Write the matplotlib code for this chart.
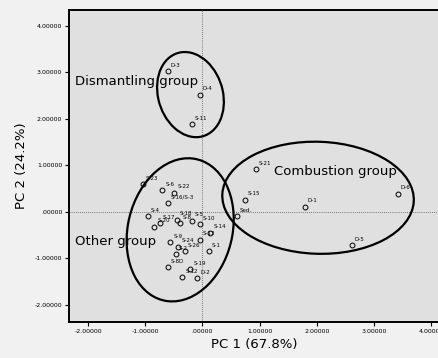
import matplotlib

matplotlib.use("Agg")

import matplotlib.pyplot as plt  # noqa: E402
from matplotlib.patches import Ellipse  # noqa: E402
from matplotlib.ticker import FuncFormatter  # noqa: E402

# PCA scores (PC1, PC2) per sample
dismantling_names = ["D-3", "D-4", "S-11"]
dismantling_pc1 = [-0.60, -0.05, -0.18]
dismantling_pc2 = [3.03, 2.52, 1.89]

combustion_names = ["S-21", "S-15", "Sed.", "D-1", "D-6", "D-5"]
combustion_pc1 = [0.93, 0.74, 0.60, 1.79, 3.42, 2.61]
combustion_pc2 = [0.92, 0.26, -0.10, 0.11, 0.39, -0.71]

other_names = ["S-23", "S-6", "S-22", "S-16/S-3", "S-20", "S-17", "S-4",
               "S-18", "S-5", "S-8", "S-10", "S-14", "S-24", "S-13",
               "S-9", "S-2", "S-26", "S-1", "S-8D", "S-19", "D-2", "S-12"]
other_pc1 = [-1.04, -0.70, -0.49, -0.60, -0.84, -0.75, -0.95,
             -0.44, -0.18, -0.39, -0.04, 0.14, -0.42, -0.04,
             -0.56, -0.46, -0.30, 0.11, -0.60, -0.21, -0.09, -0.35]
other_pc2 = [0.60, 0.47, 0.41, 0.19, -0.32, -0.24, -0.09,
             -0.17, -0.19, -0.24, -0.26, -0.45, -0.75, -0.60,
             -0.66, -0.92, -0.84, -0.84, -1.20, -1.23, -1.43, -1.40]

x_ticks = [-2, -1, 0, 1, 2, 3, 4]
y_ticks = [-2, -1, 0, 1, 2, 3, 4]


def _fmt(v, _pos):
    s = "%.5f" % v
    return s.replace("0.", ".", 1) if s.startswith("0.") else s


fig = plt.figure(figsize=(4.38, 3.58), dpi=100)
fig.patch.set_facecolor("#f1f1f1")
ax = fig.add_axes([0.158, 0.101, 0.845, 0.871])
ax.set_facecolor("#e0e0e0")

ax.axvline(0, color="#555555", lw=0.6, ls=(0, (1, 1.5)), zorder=1)
ax.axhline(0, color="#555555", lw=0.6, ls=(0, (1, 1.5)), zorder=1)

groups = [
    (dismantling_names, dismantling_pc1, dismantling_pc2),
    (combustion_names, combustion_pc1, combustion_pc2),
    (other_names, other_pc1, other_pc2),
]
for names, xs, ys in groups:
    ax.plot(xs, ys, linestyle="none", marker="o", markersize=3.5,
            markerfacecolor="none", markeredgecolor="black", markeredgewidth=0.7, zorder=3)
    for name, xv, yv in zip(names, xs, ys):
        ax.annotate(name, (xv, yv), xytext=(2, 3), textcoords="offset points",
                    fontsize=4, color="black", zorder=4)

ellipse_style = dict(fill=False, edgecolor="black", linewidth=1.6, zorder=2)
ax.add_patch(Ellipse((-0.21, 2.52), 1.14, 1.85, angle=10, **ellipse_style))
ax.add_patch(Ellipse((2.02, 0.30), 3.35, 2.41, angle=-3, **ellipse_style))
ax.add_patch(Ellipse((-0.39, -0.39), 1.84, 3.10, angle=-8, **ellipse_style))

ax.text(-2.23, 2.80, "Dismantling group", fontsize=9.5, va="center", ha="left", zorder=5)
ax.text(1.25, 0.86, "Combustion group", fontsize=9.5, va="center", ha="left", zorder=5)
ax.text(-2.23, -0.65, "Other group", fontsize=9.5, va="center", ha="left", zorder=5)

ax.set_xlim(-2.33, 4.14)
ax.set_ylim(-2.37, 4.34)
ax.set_xticks(x_ticks)
ax.set_yticks(y_ticks)
ax.xaxis.set_major_formatter(FuncFormatter(_fmt))
ax.yaxis.set_major_formatter(FuncFormatter(_fmt))
ax.tick_params(labelsize=4.5, length=3, width=0.8, direction="out", pad=2)

for side in ["left", "bottom", "top"]:
    ax.spines[side].set_linewidth(1.4)
ax.spines["right"].set_visible(False)

ax.set_xlabel("PC 1 (67.8%)", fontsize=9.5, labelpad=3)
ax.set_ylabel("PC 2 (24.2%)", fontsize=9.5, labelpad=5)

fig.savefig("out.png", dpi=100)
